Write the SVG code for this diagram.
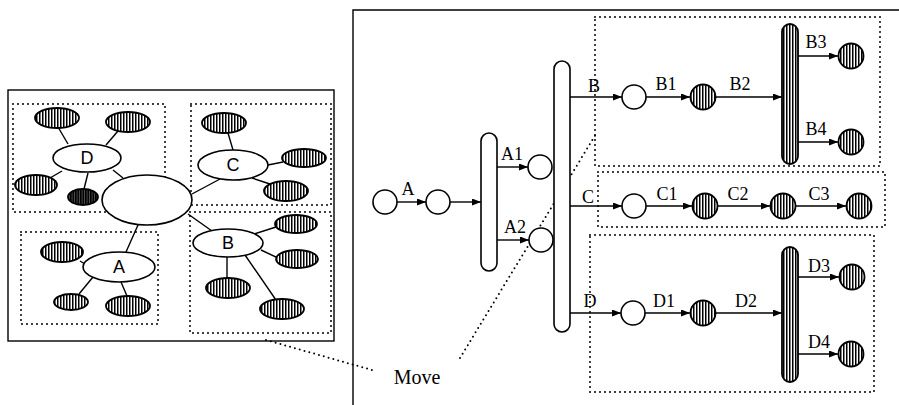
<svg xmlns="http://www.w3.org/2000/svg" width="899" height="405" viewBox="0 0 899 405">
<style>
.frame{fill:none;stroke:#000;stroke-width:1.4}
.dot{fill:none;stroke:#000;stroke-width:2;stroke-linecap:round;stroke-dasharray:0 5}
.plain{fill:#fff;stroke:#000;stroke-width:1.6}
.hat{fill:url(#vh);stroke:#000;stroke-width:1.8}
.hatd{fill:url(#vhd);stroke:#000;stroke-width:1.8}
.edge{fill:none;stroke:#000;stroke-width:1.4}
.arr{fill:none;stroke:#000;stroke-width:1.4;marker-end:url(#ah)}
.lbl{font-family:"Liberation Serif","Times New Roman",serif;font-size:18px;fill:#000;text-anchor:middle}
.lbs{font-family:"Liberation Sans",Arial,sans-serif;font-size:18px;fill:#000;text-anchor:middle}
</style>
<defs>
<pattern id="vh" width="3" height="4" patternUnits="userSpaceOnUse">
<rect width="3" height="4" fill="#fff"/><rect width="1.5" height="4" fill="#000"/>
</pattern>
<pattern id="vhd" width="2.5" height="4" patternUnits="userSpaceOnUse">
<rect width="2.5" height="4" fill="#555"/><rect width="1.6" height="4" fill="#000"/>
</pattern>
<marker id="ah" markerWidth="9" markerHeight="7" refX="9" refY="3.5" orient="auto" markerUnits="userSpaceOnUse">
<path d="M0,0 L9,3.5 L0,7 z" fill="#000"/>
</marker>
</defs>
<rect width="899" height="405" fill="#fff"/>

<!-- left panel frame and regions -->
<g id="left-frame">
<rect class="frame" x="8" y="90" width="326" height="251"/>
<rect class="dot" x="13" y="104" width="152" height="108"/>
<rect class="dot" x="191" y="104" width="140" height="101"/>
<rect class="dot" x="190" y="212" width="141" height="121"/>
<rect class="dot" x="21" y="232" width="137" height="92"/>
</g>

<!-- right panel frame and regions -->
<g id="right-frame">
<path class="frame" d="M353,405 L353,10 L899,10"/>
<rect class="dot" x="595" y="17" width="285" height="149"/>
<rect class="dot" x="598" y="172" width="287" height="55"/>
<rect class="dot" x="590" y="235" width="284" height="157"/>
</g>

<g id="connectors">
<!-- left graph -->
<line class="edge" x1="123" y1="178" x2="113" y2="170"/>
<line class="edge" x1="192" y1="194" x2="220" y2="179"/>
<line class="edge" x1="188" y1="214" x2="212" y2="231"/>
<line class="edge" x1="138" y1="225" x2="126" y2="252"/>
<line class="edge" x1="68" y1="144" x2="58" y2="127"/>
<line class="edge" x1="106" y1="145" x2="118" y2="131"/>
<line class="edge" x1="62" y1="171" x2="50" y2="178"/>
<line class="edge" x1="88" y1="173" x2="84" y2="189"/>
<line class="edge" x1="233" y1="150" x2="228" y2="133"/>
<line class="edge" x1="268" y1="165" x2="283" y2="162"/>
<line class="edge" x1="252" y1="178" x2="270" y2="184"/>
<line class="edge" x1="254" y1="234" x2="276" y2="227"/>
<line class="edge" x1="261" y1="250" x2="278" y2="258"/>
<line class="edge" x1="227" y1="257" x2="227" y2="278"/>
<line class="edge" x1="245" y1="255" x2="276" y2="300"/>
<line class="edge" x1="85" y1="264" x2="80" y2="261"/>
<line class="edge" x1="93" y1="277" x2="79" y2="294"/>
<line class="edge" x1="121" y1="282" x2="127" y2="296"/>
<!-- move lines -->
<line class="dot" x1="266" y1="340" x2="372" y2="370"/>
<line class="dot" x1="460" y1="358" x2="596" y2="134"/>
<!-- right graph -->
<line class="arr" x1="397" y1="202" x2="426" y2="202"/>
<line class="arr" x1="450" y1="202" x2="481" y2="202"/>
<line class="arr" x1="497" y1="167" x2="528" y2="167"/>
<line class="arr" x1="497" y1="240" x2="529" y2="240"/>
<line class="arr" x1="570" y1="97" x2="622" y2="97"/>
<line class="arr" x1="646" y1="97" x2="690" y2="97"/>
<line class="arr" x1="716" y1="97" x2="782" y2="97"/>
<line class="arr" x1="798" y1="56" x2="838" y2="56"/>
<line class="arr" x1="798" y1="142" x2="838" y2="142"/>
<line class="arr" x1="570" y1="206" x2="622" y2="206"/>
<line class="arr" x1="646" y1="206" x2="692" y2="206"/>
<line class="arr" x1="718" y1="206" x2="770" y2="206"/>
<line class="arr" x1="796" y1="206" x2="846" y2="206"/>
<line class="arr" x1="570" y1="313" x2="621" y2="313"/>
<line class="arr" x1="645" y1="313" x2="690" y2="313"/>
<line class="arr" x1="716" y1="313" x2="782" y2="313"/>
<line class="arr" x1="798" y1="277" x2="839" y2="277"/>
<line class="arr" x1="798" y1="354" x2="838" y2="354"/>
<!-- labels -->
<text class="lbl" x="408" y="195">A</text>
<text class="lbl" x="512" y="160">A1</text>
<text class="lbl" x="515" y="233">A2</text>
<text class="lbl" x="594" y="92">B</text>
<text class="lbl" x="666" y="90">B1</text>
<text class="lbl" x="740" y="90">B2</text>
<text class="lbl" x="816" y="48">B3</text>
<text class="lbl" x="816" y="135">B4</text>
<text class="lbl" x="588" y="203">C</text>
<text class="lbl" x="667" y="200">C1</text>
<text class="lbl" x="738" y="200">C2</text>
<text class="lbl" x="819" y="200">C3</text>
<text class="lbl" x="590" y="307">D</text>
<text class="lbl" x="664" y="307">D1</text>
<text class="lbl" x="746" y="307">D2</text>
<text class="lbl" x="819" y="272">D3</text>
<text class="lbl" x="819" y="348">D4</text>
<text class="lbl" x="417" y="384" style="font-size:20px">Move</text>
</g>

<!-- left graph nodes -->
<g id="center"><ellipse class="plain" cx="147" cy="200" rx="45" ry="25"/></g>
<g id="nodeD"><ellipse class="plain" cx="87" cy="158" rx="34" ry="14"/><text class="lbs" x="87" y="164">D</text></g>
<g id="nodeC"><ellipse class="plain" cx="233" cy="165" rx="35" ry="15"/><text class="lbs" x="233" y="171">C</text></g>
<g id="nodeB"><ellipse class="plain" cx="228" cy="243" rx="35" ry="14"/><text class="lbs" x="228" y="249">B</text></g>
<g id="nodeA"><ellipse class="plain" cx="119" cy="267" rx="36" ry="15"/><text class="lbs" x="119" y="273">A</text></g>
<g id="d-sat1"><ellipse class="hat" cx="57" cy="118" rx="22" ry="10"/></g>
<g id="d-sat2"><ellipse class="hat" cx="128" cy="122" rx="22" ry="10"/></g>
<g id="d-sat3"><ellipse class="hat" cx="36" cy="185" rx="21" ry="10"/></g>
<g id="d-sat4"><ellipse class="hatd" cx="83" cy="197" rx="15" ry="8"/></g>
<g id="c-sat1"><ellipse class="hat" cx="224" cy="123" rx="22" ry="10"/></g>
<g id="c-sat2"><ellipse class="hat" cx="304" cy="158" rx="22" ry="9"/></g>
<g id="c-sat3"><ellipse class="hat" cx="286" cy="191" rx="22" ry="10"/></g>
<g id="b-sat1"><ellipse class="hat" cx="296" cy="224" rx="21" ry="9"/></g>
<g id="b-sat2"><ellipse class="hat" cx="297" cy="259" rx="21" ry="9"/></g>
<g id="b-sat3"><ellipse class="hat" cx="228" cy="288" rx="22" ry="10"/></g>
<g id="b-sat4"><ellipse class="hat" cx="282" cy="309" rx="22" ry="10"/></g>
<g id="a-sat1"><ellipse class="hat" cx="62" cy="252" rx="21" ry="10"/></g>
<g id="a-sat2"><ellipse class="hat" cx="71" cy="302" rx="17" ry="8"/></g>
<g id="a-sat3"><ellipse class="hat" cx="128" cy="306" rx="22" ry="10"/></g>

<!-- right graph nodes -->
<g id="s1"><circle class="plain" cx="385" cy="202" r="12"/></g>
<g id="s2"><circle class="plain" cx="438" cy="202" r="12"/></g>
<g id="bar1"><rect class="plain" x="481" y="133" width="16" height="138" rx="8"/></g>
<g id="a1"><circle class="plain" cx="540" cy="167" r="12"/></g>
<g id="a2"><circle class="plain" cx="541" cy="240" r="12"/></g>
<g id="bar2"><rect class="plain" x="554" y="61" width="16" height="271" rx="8"/></g>
<g id="b0"><circle class="plain" cx="634" cy="97" r="12"/></g>
<g id="b1"><circle class="hat" cx="703" cy="97" r="12.5"/></g>
<g id="bar3"><rect class="hat" x="782" y="24" width="16" height="140" rx="8"/></g>
<g id="b3"><circle class="hat" cx="851" cy="56" r="12.5"/></g>
<g id="b4"><circle class="hat" cx="851" cy="142" r="12.5"/></g>
<g id="c0"><circle class="plain" cx="634" cy="206" r="12"/></g>
<g id="c1"><circle class="hat" cx="705" cy="206" r="12.5"/></g>
<g id="c2"><circle class="hat" cx="783" cy="206" r="12.5"/></g>
<g id="c3"><circle class="hat" cx="859" cy="206" r="12.5"/></g>
<g id="d0"><circle class="plain" cx="633" cy="313" r="12"/></g>
<g id="d1"><circle class="hat" cx="703" cy="313" r="12.5"/></g>
<g id="bar4"><rect class="hat" x="782" y="247" width="16" height="135" rx="8"/></g>
<g id="d3"><circle class="hat" cx="852" cy="277" r="12.5"/></g>
<g id="d4"><circle class="hat" cx="851" cy="354" r="12.5"/></g>
</svg>
